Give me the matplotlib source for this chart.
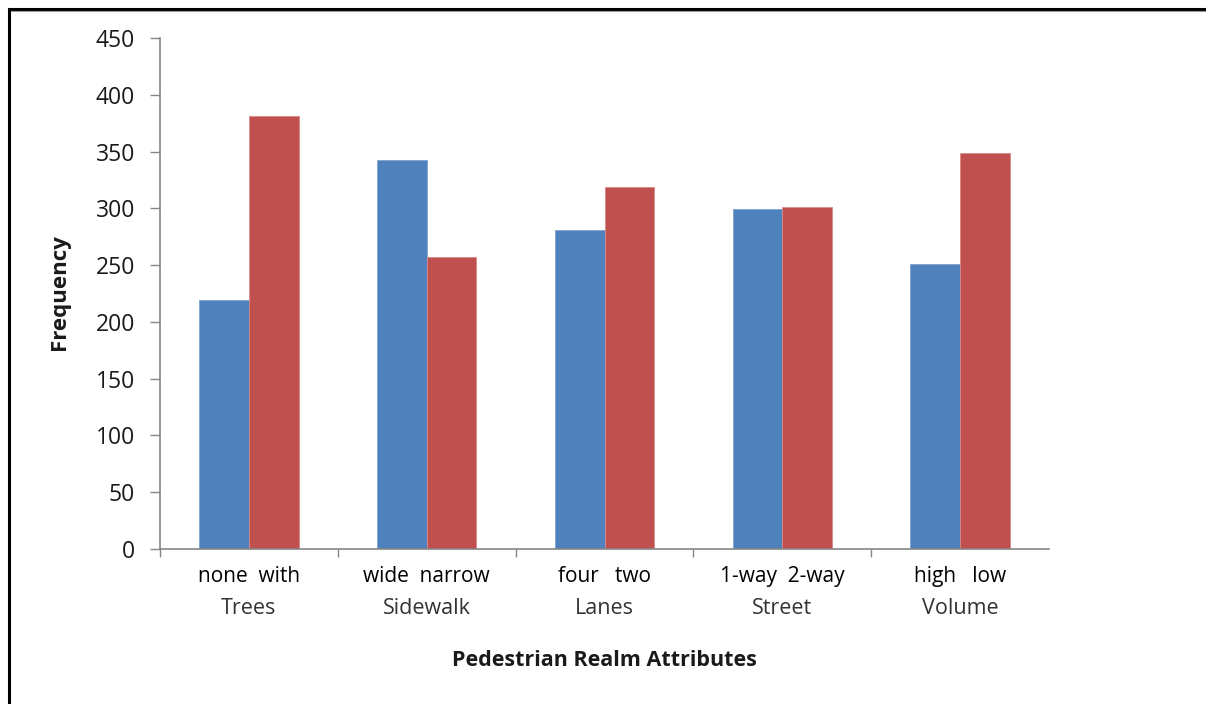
import numpy as np
import matplotlib
matplotlib.use("Agg")
import matplotlib.pyplot as plt
import matplotlib.transforms as mtransforms
from matplotlib.lines import Line2D

# Attribute groups and the two levels compared within each group
categories = ["Trees", "Sidewalk", "Lanes", "Street", "Volume"]
level_labels = ["none  with", "wide  narrow", "four   two", "1-way  2-way", "high   low"]
first_level = [219, 343, 281, 299, 251]
second_level = [381, 257, 319, 301, 349]
y_ticks = [0, 50, 100, 150, 200, 250, 300, 350, 400, 450]

BLUE = "#4F81BD"
RED = "#C0504D"
AXIS_GRAY = "#868686"

plt.rcParams["font.family"] = ["Open Sans", "DejaVu Sans"]

W, H = 1206, 704
fig = plt.figure(figsize=(W / 100, H / 100), dpi=100)
fig.patch.set_facecolor("white")

ax = fig.add_axes([160 / W, 1 - 549 / H, 889 / W, 511 / H])

x = np.arange(len(categories))
bw = 0.28
ax.bar(x - bw / 2, first_level, bw, color=BLUE, edgecolor="#7FA3D0", linewidth=0.6)
ax.bar(x + bw / 2, second_level, bw, color=RED, edgecolor="#D88A88", linewidth=0.6)

ax.set_xlim(-0.5, len(categories) - 0.5)
ax.set_ylim(0, 450)

for side in ("top", "right"):
    ax.spines[side].set_visible(False)
for side in ("left", "bottom"):
    ax.spines[side].set_color(AXIS_GRAY)
    ax.spines[side].set_linewidth(1.2)

ax.set_yticks(y_ticks)
ax.tick_params(axis="y", which="major", length=7, width=1.0, color=AXIS_GRAY,
               labelsize=16.5, labelcolor="#1a1a1a", pad=11)

# level names directly under each pair of bars
ax.set_xticks(x)
ax.set_xticklabels(level_labels)
ax.tick_params(axis="x", which="major", length=0, labelsize=15, labelcolor="#000000", pad=12.5)

# group separators on the category axis
ax.set_xticks(np.arange(-0.5, len(categories) - 1, 1.0), minor=True)
ax.tick_params(axis="x", which="minor", length=6, width=1.0, color=AXIS_GRAY)

# group names on a second row
trans = mtransforms.blended_transform_factory(ax.transData, ax.transAxes)
for i, name in enumerate(categories):
    ax.text(i, (549 - 609) / 511, name, transform=trans, ha="center", va="center",
            fontsize=15.5, color="#333333")

fig.text(604 / W, 1 - 660 / H, "Pedestrian Realm Attributes", ha="center", va="center",
         fontsize=15.5, fontweight="bold", color="#1a1a1a")
fig.text(60 / W, 1 - 292 / H, "Frequency", ha="center", va="center", rotation=90,
         fontsize=16, fontweight="bold", color="#1a1a1a")

# outer frame (left and top edges)
fig.add_artist(Line2D([9 / W, 9 / W], [0, 1 - 8.5 / H], transform=fig.transFigure,
                      color="black", linewidth=2.2, solid_capstyle="projecting"))
fig.add_artist(Line2D([9 / W, 1], [1 - 8.5 / H, 1 - 8.5 / H], transform=fig.transFigure,
                      color="black", linewidth=2.2, solid_capstyle="projecting"))
fig.add_artist(Line2D([11 / W, 1], [1 - 10.8 / H, 1 - 10.8 / H], transform=fig.transFigure,
                      color="#9a9a9a", linewidth=0.8))

fig.savefig("out.png", dpi=100)
